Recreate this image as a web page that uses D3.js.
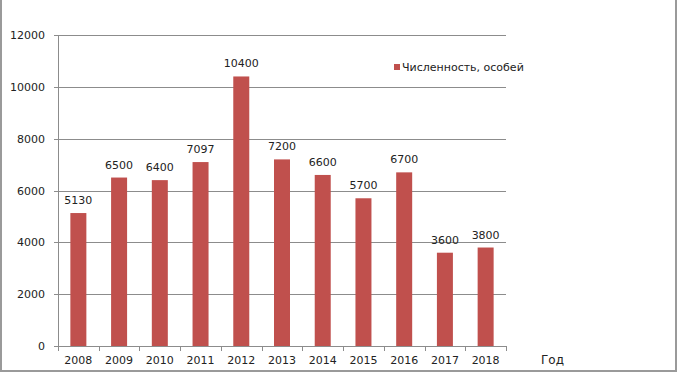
<!DOCTYPE html>
<html>
<head>
<meta charset="utf-8">
<script src="https://cdn.jsdelivr.net/npm/d3@7"></script>
<style>
  body { margin: 0; background: #fff; }
  text { font-family: "DejaVu Sans", sans-serif; font-size: 11px; fill: #222; }
</style>
</head>
<body>
<script>
const years = ["2008", "2009", "2010", "2011", "2012", "2013", "2014", "2015", "2016", "2017", "2018"]
const counts = [5130, 6500, 6400, 7097, 10400, 7200, 6600, 5700, 6700, 3600, 3800]
const yTicks = [0, 2000, 4000, 6000, 8000, 10000, 12000]
const seriesName = "Численность, особей"
const axisTitle = "Год"

const width = 678
const height = 376
const margin = { left: 58, right: 172, top: 35, bottom: 30 }

const svg = d3.select("body").append("svg")
    .attr("width", width)
    .attr("height", height)

// outer frame
svg.append("rect")
    .attr("x", 1).attr("y", -2)
    .attr("width", 675).attr("height", 373)
    .attr("fill", "none")
    .attr("stroke", "#9a9a9a")
    .attr("stroke-width", 2)

const x = d3.scaleBand()
    .domain(years)
    .range([margin.left, width - margin.right])

const y = d3.scaleLinear()
    .domain([0, 12000])
    .range([height - margin.bottom, margin.top])

// gridlines
svg.append("g")
    .selectAll("line")
    .data(yTicks)
    .enter().append("line")
    .attr("x1", margin.left - 4)
    .attr("x2", width - margin.right)
    .attr("y1", d => Math.round(y(d)) + 0.5)
    .attr("y2", d => Math.round(y(d)) + 0.5)
    .style("stroke", "#8c8c8c")
    .style("stroke-width", 1)

// y axis line
svg.append("line")
    .attr("x1", margin.left + 0.5).attr("x2", margin.left + 0.5)
    .attr("y1", y(12000)).attr("y2", y(0))
    .style("stroke", "#8c8c8c")

// y labels
svg.append("g")
    .selectAll("text")
    .data(yTicks)
    .enter().append("text")
    .attr("x", margin.left - 13)
    .attr("y", d => y(d) + 4)
    .attr("text-anchor", "end")
    .text(d => d)

// x ticks between categories
const tickXs = years.map(d => x(d)).concat([x.range()[1]])
svg.append("g")
    .selectAll("line")
    .data(tickXs)
    .enter().append("line")
    .attr("x1", d => Math.round(d) + 0.5)
    .attr("x2", d => Math.round(d) + 0.5)
    .attr("y1", y(0))
    .attr("y2", y(0) + 5)
    .style("stroke", "#8c8c8c")

// bars
const barW = 16
svg.append("g")
    .selectAll("rect")
    .data(counts)
    .enter().append("rect")
    .attr("x", (d, i) => x(years[i]) + x.bandwidth() / 2 - barW / 2)
    .attr("y", d => y(d))
    .attr("width", barW)
    .attr("height", d => y(0) - y(d))
    .style("fill", "#c0504d")

// value labels
svg.append("g")
    .selectAll("text")
    .data(counts)
    .enter().append("text")
    .attr("x", (d, i) => x(years[i]) + x.bandwidth() / 2)
    .attr("y", d => y(d) - 9)
    .attr("text-anchor", "middle")
    .text(d => d)

// category labels
svg.append("g")
    .selectAll("text")
    .data(years)
    .enter().append("text")
    .attr("x", d => x(d) + x.bandwidth() / 2)
    .attr("y", y(0) + 18)
    .attr("text-anchor", "middle")
    .text(d => d)

// axis title
svg.append("text")
    .attr("x", 541)
    .attr("y", y(0) + 18)
    .style("font-size", "12px")
    .text(axisTitle)

// legend
svg.append("rect")
    .attr("x", 394).attr("y", 64)
    .attr("width", 6).attr("height", 6)
    .style("fill", "#c0504d")
svg.append("text")
    .attr("x", 402)
    .attr("y", 71)
    .text(seriesName)
</script>
</body>
</html>
